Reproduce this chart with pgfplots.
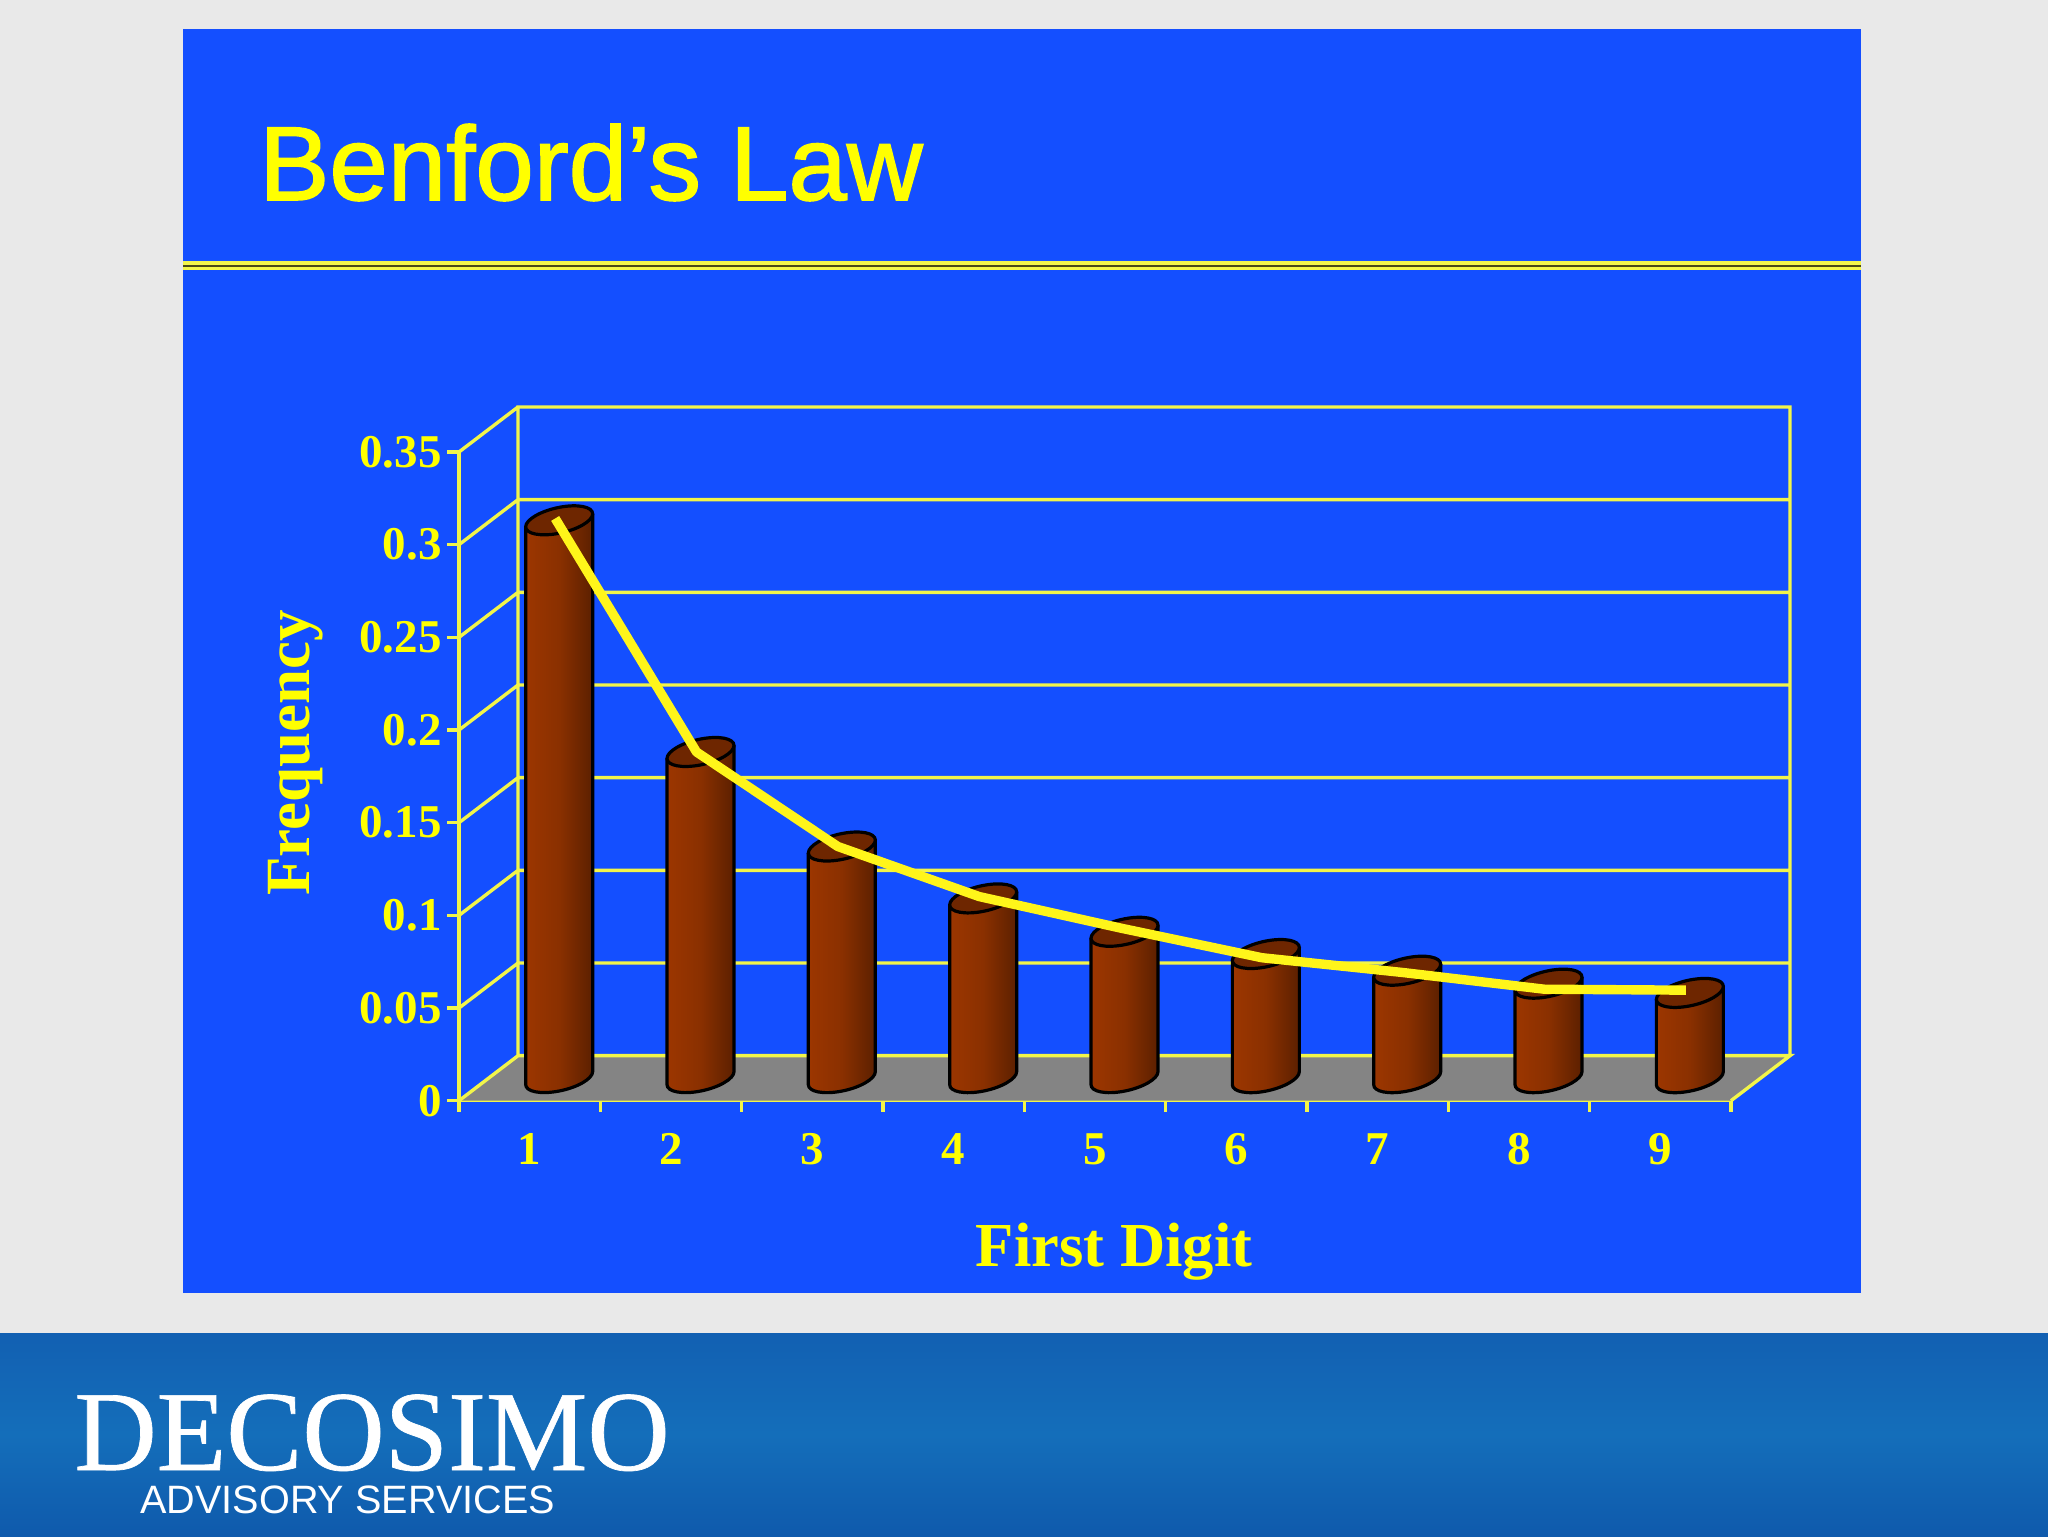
\documentclass[border=0pt]{standalone}
\usepackage{fontspec}
\setmainfont{Liberation Serif}
\newfontfamily\arialf{Liberation Sans}
\newfontfamily\arialb[FakeBold=1.5]{Liberation Sans}
\newfontfamily\logof[FakeBold=0.6]{Liberation Serif}
\usepackage{pgfplots}
\usepackage{pgfplotstable}
\pgfplotsset{compat=1.18}
\definecolor{pagebg}{HTML}{E9E9E9}
\definecolor{panel}{HTML}{144FFF}
\definecolor{ylw}{HTML}{F2F54A}
\definecolor{ylwt}{HTML}{FFFF00}
\definecolor{curve}{HTML}{FFF51A}
\definecolor{floorc}{HTML}{848484}
\definecolor{barL}{HTML}{9C3600}
\definecolor{barM}{HTML}{8A3000}
\definecolor{barR}{HTML}{5C2000}
\definecolor{capc}{HTML}{6E2600}
\definecolor{footA}{HTML}{1A58AC}
\definecolor{footB}{HTML}{1260B2}
\definecolor{footC}{HTML}{146EBA}
\definecolor{footD}{HTML}{0F5AAC}
\pgfdeclareplotmark{nothing}{}
\pgfdeclareverticalshading{footshade}{100bp}{color(0bp)=(footB); color(25bp)=(footD); color(50bp)=(footC); color(75bp)=(footB); color(100bp)=(footA)}
% point of a cylinder, in reference pixels, relative to the data point, dropped by #3
\def\cp#1#2#3{(29.5+#1,22.5+#2-#3)}
% tilted ellipse of a cylinder's end
\def\cyl#1{\cp{33.5}{6.5}{#1} .. controls \cp{33.5}{13.66}{#1} and \cp{18.5}{16.55}{#1} .. \cp{0}{12.96}{#1}
 .. controls \cp{-18.5}{9.37}{#1} and \cp{-33.5}{0.66}{#1} .. \cp{-33.5}{-6.5}{#1}
 .. controls \cp{-33.5}{-13.66}{#1} and \cp{-18.5}{-16.55}{#1} .. \cp{0}{-12.96}{#1}
 .. controls \cp{18.5}{-9.37}{#1} and \cp{33.5}{-0.66}{#1} .. cycle}
% its lower half only
\def\cylb#1{\cp{-33.5}{-6.5}{#1}
 .. controls \cp{-33.5}{-13.66}{#1} and \cp{-18.5}{-16.55}{#1} .. \cp{0}{-12.96}{#1}
 .. controls \cp{18.5}{-9.37}{#1} and \cp{33.5}{-0.66}{#1} .. \cp{33.5}{6.5}{#1}}
\pgfplotstableread{
x y
1 0.301
2 0.176
3 0.125
4 0.097
5 0.079
6 0.067
7 0.058
8 0.051
9 0.046
}\bars
\pgfplotstableread{
x y
1 0.302
2 0.176
3 0.125
4 0.098
5 0.081
6 0.065
7 0.057
8 0.048
9 0.0475
}\curve
\begin{document}
\begin{tikzpicture}
\useasboundingbox (0,0) rectangle (1024pt,768pt);
\begin{scope}[x=0.5pt,y=-0.5pt,yshift=768pt]
\fill[pagebg] (0,0) rectangle (2048,1536);
\fill[panel] (183,29) rectangle (1861,1293);
\fill[footB,shading=footshade] (0,1333) rectangle (2048,1536);
\fill[ylw] (183,261) rectangle (1861,265);
\fill[black!70!ylw] (183,265) rectangle (1861,267);
\fill[ylw] (183,267) rectangle (1861,270.5);
\node[anchor=base west,inner sep=0pt,text=ylwt,font=\arialb\fontsize{52.5}{52.5}\selectfont] at (259,200) {Benford’s Law};
\node[anchor=base west,inner sep=0pt,text=white,font=\logof\fontsize{57}{57}\selectfont] at (74,1470) {DECOSIMO};
\node[anchor=base west,inner sep=0pt,text=white,font=\arialf\fontsize{19.8}{19.8}\selectfont] at (140,1513) {ADVISORY SERVICES};
\end{scope}
\begin{axis}[
  at={(229.5pt,217.65pt)}, anchor=origin,
  scale only axis, width=636pt, height=324.35pt,
  xmin=0.5, xmax=9.5, ymin=0, ymax=0.35,
  clip=false,
  axis x line*=bottom, axis y line*=left,
  axis line style={ylw,line width=1.7pt,-},
  tick align=outside,
  xtick={1,...,9}, minor xtick={0.5,1.5,...,9.5},
  ytick={0,0.05,0.1,0.15,0.2,0.25,0.3,0.35},
  yticklabels={0,0.05,0.1,0.15,0.2,0.25,0.3,0.35},
  xticklabels={1,2,3,4,5,6,7,8,9},
  major tick length=6pt, minor tick length=5.5pt,
  major x tick style={draw=none},
  minor x tick style={ylw,line width=1.7pt},
  major y tick style={ylw,line width=1.7pt},
  tick label style={text=ylwt,font=\bfseries\fontsize{23.5}{23.5}\selectfont},
  yticklabel style={inner sep=0pt,xshift=-2.5pt},
  xticklabel style={inner sep=0pt,yshift=-10.3pt},
  xlabel={First Digit},
  ylabel={Frequency},
  xlabel style={at={(axis description cs:0.515,0)},anchor=base,yshift=-83pt,inner sep=0pt,text=ylwt,font=\bfseries\fontsize{31.3}{31.3}\selectfont},
  ylabel style={at={(axis description cs:-0.1179,0.536)},anchor=base,inner sep=0pt,text=ylwt,font=\bfseries\fontsize{31.5}{31.5}\selectfont},
]
% floor
\addplot[draw=none,fill=floorc,forget plot] coordinates {(0.5,0) (9.5,0) (9.9175,0.02428) (0.9175,0.02428)} -- cycle;
% side walls, floor edges and grid
\addplot[ylw,line width=1.7pt,forget plot,unbounded coords=jump] coordinates {
 (0.5,0) (0.9175,0.02428) (9.9175,0.02428) (9.5,0) (nan,nan)
 (0.9175,0.02428) (0.9175,0.37428) (9.9175,0.37428) (9.9175,0.02428) (nan,nan)
 (0.5,0.05) (0.9175,0.07428) (9.9175,0.07428) (nan,nan)
 (0.5,0.10) (0.9175,0.12428) (9.9175,0.12428) (nan,nan)
 (0.5,0.15) (0.9175,0.17428) (9.9175,0.17428) (nan,nan)
 (0.5,0.20) (0.9175,0.22428) (9.9175,0.22428) (nan,nan)
 (0.5,0.25) (0.9175,0.27428) (9.9175,0.27428) (nan,nan)
 (0.5,0.30) (0.9175,0.32428) (9.9175,0.32428) (nan,nan)
 (0.5,0.35) (0.9175,0.37428)
};
% cylinders: one mark per value, its height is the value
\addplot[only marks,mark=nothing,scatter,forget plot,
  visualization depends on={rawy \as \rawv},
  scatter/@pre marker code/.code={%
    \pgfmathsetmacro\hh{\rawv*1853}%
    \begin{scope}[x=0.5pt,y=0.5pt]
      \shade[left color=barL,right color=barR,middle color=barM]
        \cp{-33.5}{-6.5}{0} -- \cylb{\hh} -- \cp{33.5}{6.5}{0} -- cycle;
      \draw[line width=1.6pt,black] \cp{-33.5}{-6.5}{0} -- \cylb{\hh} -- \cp{33.5}{6.5}{0};
      \filldraw[line width=1.6pt,draw=black,fill=capc] \cyl{0};
    \end{scope}
  },
  scatter/@post marker code/.code={},
] table[x=x,y=y] {\bars};
\end{axis}
% the curve lies over the cylinders: same frame, second axis
\begin{axis}[
  at={(229.5pt,217.65pt)}, anchor=origin,
  scale only axis, width=636pt, height=324.35pt,
  xmin=0.5, xmax=9.5, ymin=0, ymax=0.35,
  clip=false, hide axis,
]
\addplot[curve,line width=4.7pt,line join=round,mark=none,xshift=12.75pt,yshift=11.25pt,forget plot] table[x=x,y=y] {\curve};
\end{axis}
\end{tikzpicture}
\end{document}
